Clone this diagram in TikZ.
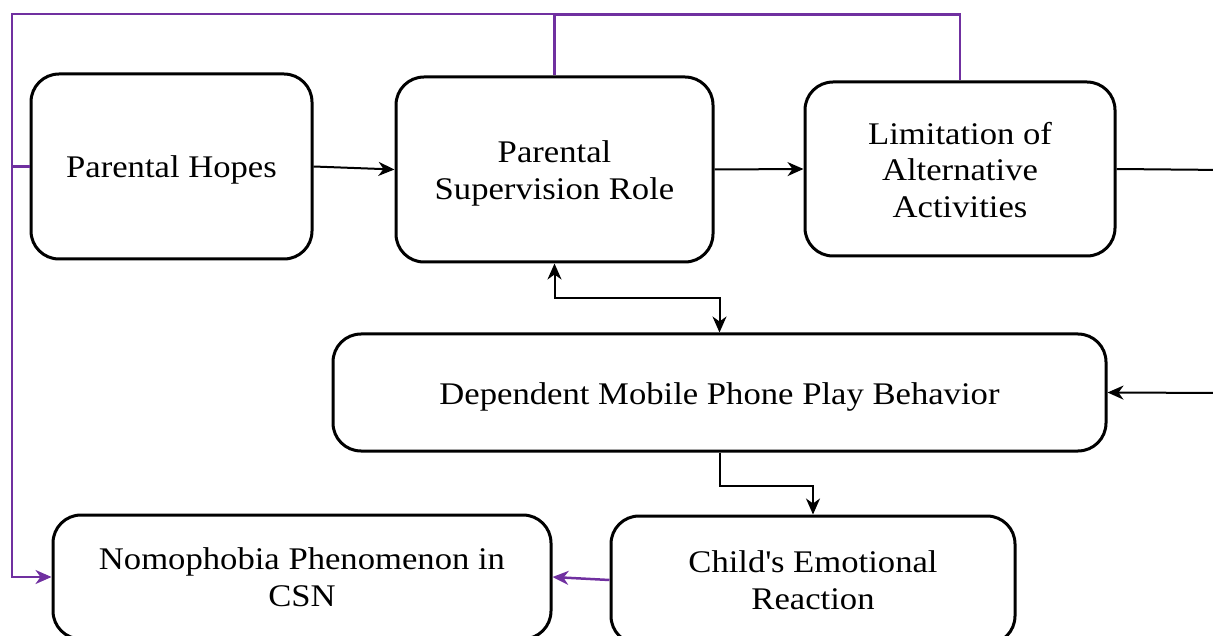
\documentclass[tikz,border=0pt]{standalone}
\usepackage{fontspec}
\setmainfont{Liberation Serif}[FakeStretch=1.1]
\usetikzlibrary{arrows.meta}
\definecolor{pur}{RGB}{112,48,160}
\newcommand{\dn}[2]{\raisebox{-#1}[\height][\depth]{#2}}
\begin{document}
\begin{tikzpicture}[x=1pt,y=-1pt,
  box/.style={draw=black, line width=3pt, rounded corners=28pt, align=center, inner sep=0pt,
    font=\fontsize{31.5}{36.5}\selectfont},
  tip/.style={-{Stealth[length=16pt,width=14pt,inset=5pt]}},
  conn/.style={draw=black, line width=2pt, tip},
  pconn/.style={draw=pur, line width=2.5pt},
]
\useasboundingbox (0,0) rectangle (1213,636);
\clip (0,0) rectangle (1213,636);

\node[box, minimum width=281pt, minimum height=185pt] (hopes) at (171.5,166.5) {\dn{3pt}{Parental Hopes}};
\node[box, minimum width=317pt, minimum height=185pt] (sup) at (554.5,169.5) {\dn{4pt}{Parental}\\\dn{4pt}{Supervision Role}};
\node[box, minimum width=310pt, minimum height=174pt] (lim) at (960,169) {\dn{1pt}{Limitation of}\\\dn{1pt}{Alternative}\\\dn{1pt}{Activities}};
\node[box, minimum width=773pt, minimum height=117pt] (dep) at (719.5,392.5) {\dn{4pt}{Dependent Mobile Phone Play Behavior}};
\node[box, minimum width=404pt, minimum height=128pt] (child) at (813,580) {Child\textquotesingle s Emotional\\Reaction};
\node[box, minimum width=498pt, minimum height=124pt] (nomo) at (302,577) {Nomophobia Phenomenon in\\CSN};

\coordinate (offA) at (1225,170);
\coordinate (offB) at (1225,393);
\coordinate (tl) at (12,14);

\draw[conn] (hopes.east) -- (sup.west);
\draw[conn] (sup.east) -- (lim.west);
\draw[draw=black, line width=2pt] (lim.east) -- (offA);
\draw[conn] (offB) -- (dep.east);
\draw[conn, {Stealth[length=16pt,width=14pt,inset=5pt]}-{Stealth[length=16pt,width=14pt,inset=5pt]}]
  (sup.south) -- ++(0,35) -| (dep.north);
\draw[conn] (dep.south) -- ++(0,33) -| (child.north);
\draw[conn, draw=pur, line width=2.5pt] (child.west) -- (nomo.east);

\draw[pconn] (lim.north) -- ++(0,-66) -| (sup.north);
\draw[pconn, tip] (sup.north) -- (sup.north |- tl) -- (tl) |- (nomo.west);
\draw[pconn] (hopes.west) -- (hopes.west -| tl);
\end{tikzpicture}
\end{document}
